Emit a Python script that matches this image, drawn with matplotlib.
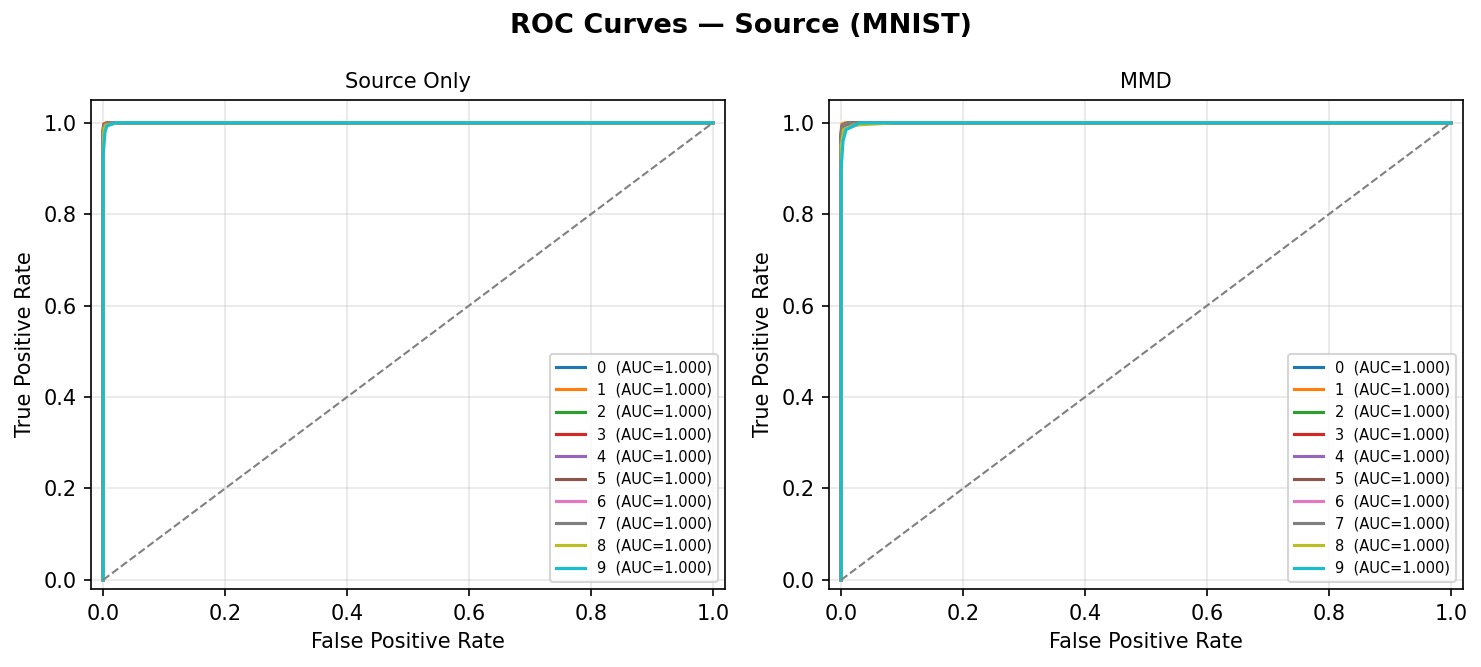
import matplotlib
matplotlib.use("Agg")
import matplotlib.pyplot as plt

classes = ["0", "1", "2", "3", "4", "5", "6", "7", "8", "9"]
auc_src = [1.000] * 10
auc_mmd = [1.000] * 10

# Source Only ROC points (fpr, tpr) per class
src_fpr = [
    [0, 0, 0.002, 0.006, 1],
    [0, 0, 0.001, 0.004, 1],
    [0, 0, 0.002, 0.012, 1],
    [0, 0, 0.002, 0.008, 1],
    [0, 0, 0.002, 0.010, 1],
    [0, 0, 0.001, 0.008, 1],
    [0, 0, 0.002, 0.010, 1],
    [0, 0, 0.002, 0.010, 1],
    [0, 0, 0.001, 0.004, 0.025, 1],
    [0, 0, 0.003, 0.006, 0.020, 1],
]
src_tpr = [
    [0, 0.985, 0.997, 1, 1],
    [0, 0.990, 0.998, 1, 1],
    [0, 0.980, 0.995, 1, 1],
    [0, 0.980, 0.996, 1, 1],
    [0, 0.980, 0.995, 1, 1],
    [0, 0.985, 0.996, 1, 1],
    [0, 0.980, 0.995, 1, 1],
    [0, 0.980, 0.995, 1, 1],
    [0, 0.940, 0.985, 0.995, 1, 1],
    [0, 0.930, 0.980, 0.993, 1, 1],
]

# MMD ROC points
mmd_fpr = [
    [0, 0, 0.002, 0.010, 1],
    [0, 0, 0.001, 0.006, 1],
    [0, 0, 0.003, 0.020, 1],
    [0, 0, 0.002, 0.012, 1],
    [0, 0, 0.003, 0.015, 1],
    [0, 0, 0.002, 0.012, 1],
    [0, 0, 0.004, 0.015, 0.035, 1],
    [0, 0, 0.002, 0.012, 1],
    [0, 0, 0.004, 0.020, 0.090, 1],
    [0, 0, 0.003, 0.008, 0.030, 1],
]
mmd_tpr = [
    [0, 0.980, 0.995, 1, 1],
    [0, 0.985, 0.997, 1, 1],
    [0, 0.970, 0.993, 1, 1],
    [0, 0.975, 0.995, 1, 1],
    [0, 0.970, 0.993, 1, 1],
    [0, 0.975, 0.994, 1, 1],
    [0, 0.960, 0.985, 0.990, 1, 1],
    [0, 0.975, 0.995, 1, 1],
    [0, 0.950, 0.985, 0.995, 1, 1],
    [0, 0.900, 0.960, 0.985, 1, 1],
]

titles = ["Source Only", "MMD"]
suptitle = "ROC Curves \u2014 Source (MNIST)"
colors = plt.rcParams['axes.prop_cycle'].by_key()['color']

fig = plt.figure(figsize=(1481 / 150, 667 / 150), dpi=150)
W, H = 1481, 667
ax1 = fig.add_axes([91 / W, 1 - 589 / H, 634 / W, 489 / H])
ax2 = fig.add_axes([829 / W, 1 - 589 / H, 634 / W, 489 / H])

panels = [(ax1, src_fpr, src_tpr, auc_src), (ax2, mmd_fpr, mmd_tpr, auc_mmd)]
for (ax, F, T, A), title in zip(panels, titles):
    for i, c in enumerate(classes):
        ax.plot(F[i], T[i], color=colors[i], lw=1.5, label=f"{c}  (AUC={A[i]:.3f})")
    ax.plot([0, 1], [0, 1], linestyle="--", color="gray", lw=1)
    ax.set_xlim(-0.02, 1.02)
    ax.set_ylim(-0.02, 1.05)
    ax.set_xlabel("False Positive Rate", fontsize=10)
    ax.set_ylabel("True Positive Rate", fontsize=10)
    ax.set_title(title, fontsize=10)
    ax.grid(True, alpha=0.3)
    ax.legend(loc="lower right", fontsize=7)
    ax.tick_params(labelsize=10)

fig.text(0.5, 1 - 26 / H, suptitle, ha="center", va="center", fontsize=13, fontweight="bold")
fig.savefig("out.png", dpi=150)
